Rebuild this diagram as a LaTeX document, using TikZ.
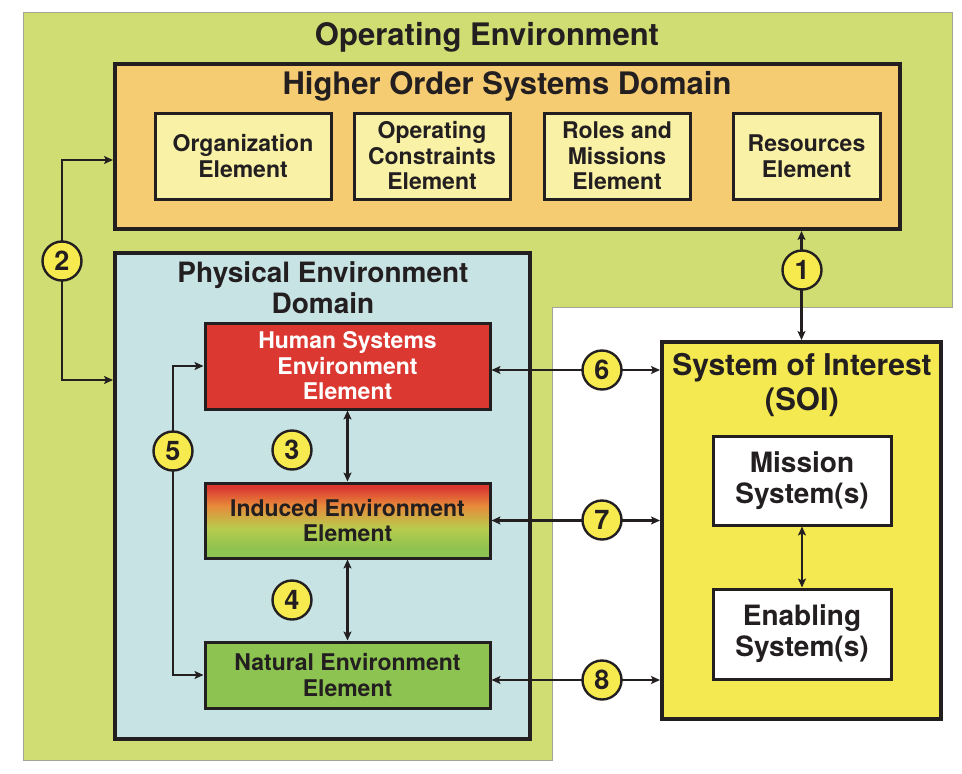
\documentclass[tikz,border=0pt]{standalone}
\usepackage{fontspec}
\setmainfont{TeX Gyre Heros}
\usetikzlibrary{arrows.meta,calc}

\definecolor{envgreen}{RGB}{207,221,115}
\definecolor{envedge}{RGB}{160,165,150}
\definecolor{hosorange}{RGB}{246,204,115}
\definecolor{elemyellow}{RGB}{249,242,166}
\definecolor{physblue}{RGB}{200,227,227}
\definecolor{humanred}{RGB}{218,56,49}
\definecolor{indorange}{RGB}{232,137,58}
\definecolor{indlime}{RGB}{184,204,78}
\definecolor{natgreen}{RGB}{141,195,80}
\definecolor{soiyellow}{RGB}{244,233,80}
\definecolor{tagyellow}{RGB}{246,234,78}
\definecolor{ink}{RGB}{35,31,32}

% red-to-green blend of the induced environment element (path spans 25bp..75bp)
\pgfdeclareverticalshading{induced}{100bp}{%
  color(0bp)=(natgreen); color(25bp)=(natgreen); color(31bp)=(natgreen);
  color(45bp)=(indlime); color(60bp)=(indorange); color(72bp)=(humanred);
  color(100bp)=(humanred)}

\newcommand\titlefont{\fontsize{31}{35}\selectfont\bfseries}
\newcommand\domfont{\fontsize{28}{31}\selectfont\bfseries}
\newcommand\elemfont{\fontsize{23}{25.5}\selectfont\bfseries}
\newcommand\sysfont{\fontsize{28}{31}\selectfont\bfseries}
\newcommand\tagfont{\fontsize{27}{27}\selectfont\bfseries}

\tikzset{
  domainbox/.style={draw=ink, line width=4pt, inner sep=0pt},
  elembox/.style={draw=ink, line width=3pt, inner sep=0pt, align=center,
    font=\elemfont, text=ink},
  tag/.style={circle, draw=ink, line width=2.4pt, fill=tagyellow,
    minimum size=39pt, inner sep=0pt, font=\tagfont, text=ink},
  link/.style={draw=ink, line width=2.5pt,
    {Stealth[length=9pt,width=8pt,inset=2pt]}-{Stealth[length=9pt,width=8pt,inset=2pt]}},
}

\begin{document}
\begin{tikzpicture}[x=1pt, y=-1pt, text=ink]
\useasboundingbox (0,0) rectangle (962,774);

% operating environment backdrop
\path[fill=envgreen, draw=envedge, line width=1pt]
  (23,12) -- (952,12) -- (952,307) -- (552,307) -- (552,760) -- (23,760) -- cycle;
\node[font=\titlefont] (optitle) at (487,37) {Operating Environment};

% higher order systems domain
\node[domainbox, fill=hosorange, minimum width=785pt, minimum height=165pt]
  (hos) at (507.5,146.5) {};
\node[font=\titlefont] (hostitle) at (507,86) {Higher Order Systems Domain};
\node[elembox, fill=elemyellow, minimum width=176pt, minimum height=86pt]
  (org) at (243,156) {Organization\\Element};
\node[elembox, fill=elemyellow, minimum width=156pt, minimum height=86pt]
  (opcon) at (432,156) {Operating\\Constraints\\Element};
\node[elembox, fill=elemyellow, minimum width=146pt, minimum height=86pt]
  (roles) at (617,156) {Roles and\\Missions\\Element};
\node[elembox, fill=elemyellow, minimum width=147pt, minimum height=86pt]
  (res) at (806.5,156) {Resources\\Element};

% physical environment domain
\node[domainbox, fill=physblue, minimum width=415pt, minimum height=486pt]
  (phys) at (322.5,496) {};
\node[font=\domfont, align=center] (phystitle) at (323,288) {Physical Environment\\Domain};
\node[elembox, fill=humanred, text=white, minimum width=285pt, minimum height=86pt]
  (human) at (347.5,366) {Human Systems\\Environment\\Element};
\node[elembox, shade, shading=induced, shading angle=0, minimum width=285pt, minimum height=75pt]
  (induced) at (347.5,520.5) {Induced Environment\\Element};
\node[elembox, fill=natgreen, minimum width=285pt, minimum height=66pt]
  (natural) at (347.5,675) {Natural Environment\\Element};

% system of interest
\node[domainbox, fill=soiyellow, minimum width=279pt, minimum height=377pt]
  (soi) at (801.5,530.5) {};
\node[font=\titlefont, align=center] (soititle) at (802,385)
  {\fontsize{30}{35}\selectfont System of Interest\\(SOI)};
\node[elembox, fill=white, font=\sysfont, minimum width=178pt, minimum height=89pt]
  (mission) at (802,480.5) {Mission\\System(s)};
\node[elembox, fill=white, font=\sysfont, minimum width=178pt, minimum height=90pt]
  (enabling) at (802,634) {Enabling\\System(s)};

% connectors
\coordinate (rail2top) at (62,160);
\coordinate (rail2bot) at (62,380);
\coordinate (rail5) at (173,0);

\draw[link] (soi.north) -- (hos.south -| soi.north);
\draw[link] (hos.west |- rail2top) -- (rail2top) -- (rail2bot) -- (phys.west |- rail2bot);
\draw[link] (human.south) -- (induced.north);
\draw[link] (induced.south) -- (natural.north);
\draw[link] (human.west) -- (human.west -| rail5) -- (natural.west -| rail5) -- (natural.west);
\draw[link] ([yshift=-4pt]human.east) -- ([yshift=-4pt]human.east -| soi.west);
\draw[link] (induced.east) -- (induced.east -| soi.west);
\draw[link] ([yshift=-5pt]natural.east) -- ([yshift=-5pt]natural.east -| soi.west);
\draw[link] (mission.south) -- (enabling.north);

% numbered interface tags
\node[tag] (t1) at (802,270) {1};
\node[tag] (t2) at (62,261) {2};
\node[tag] (t3) at (292,450) {3};
\node[tag] (t4) at (292,600) {4};
\node[tag] (t5) at (173,451) {5};
\node[tag] (t6) at (602,370) {6};
\node[tag] (t7) at (602,520) {7};
\node[tag] (t8) at (602,680) {8};
\end{tikzpicture}
\end{document}
